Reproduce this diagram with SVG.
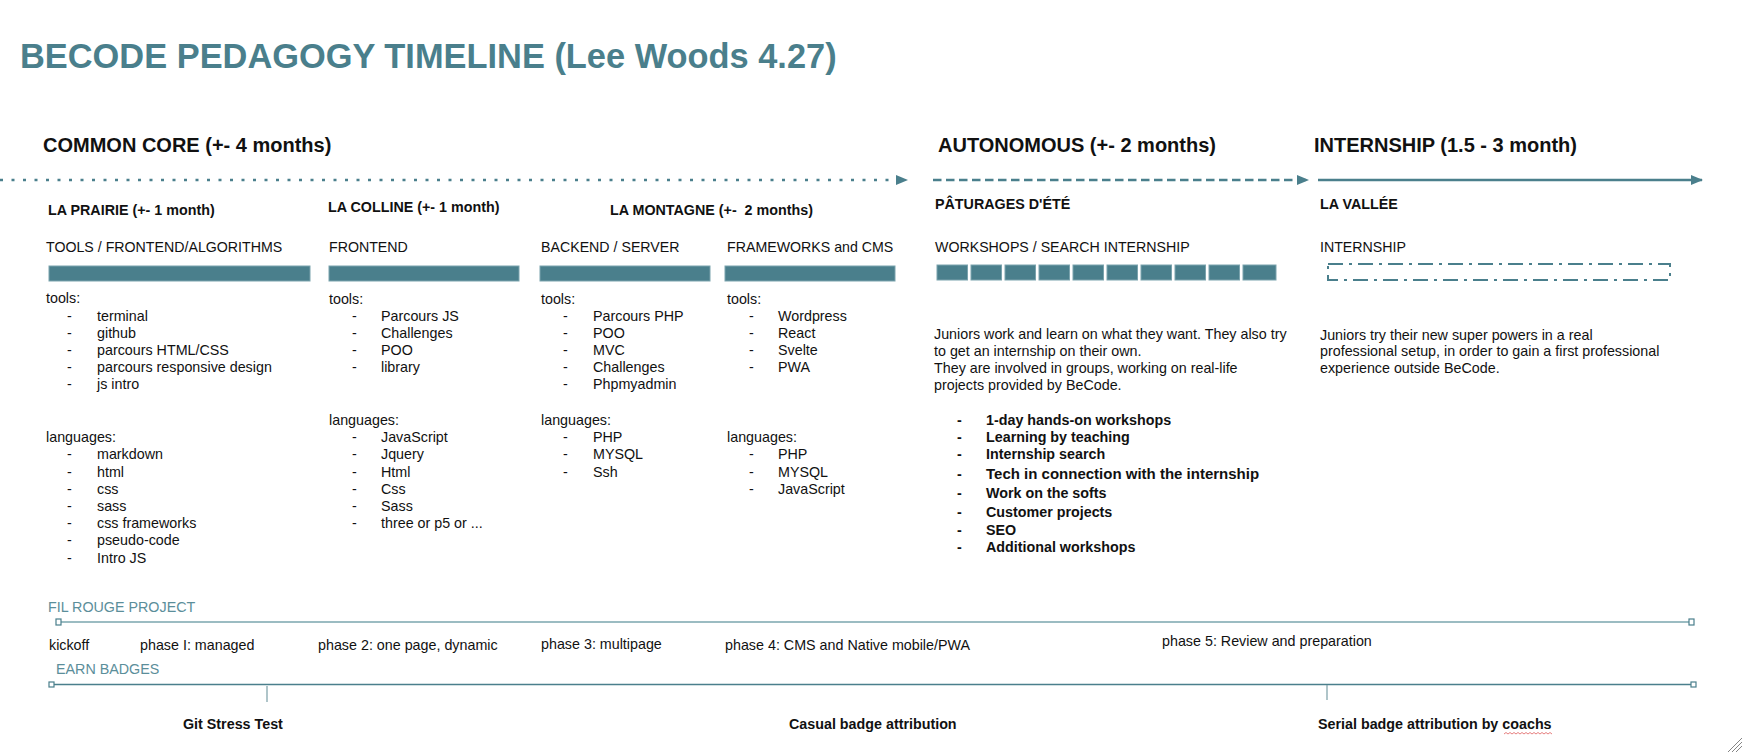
<svg xmlns="http://www.w3.org/2000/svg" width="1743" height="753" viewBox="0 0 1743 753">
<defs>
<style>
text{font-family:"Liberation Sans",Arial,sans-serif;fill:#111}
.title{font-size:34.4px;font-weight:bold;fill:#4a7f8c}
.h1{font-size:20px;font-weight:bold}
.h2{font-size:14.3px;font-weight:bold}
.h3{font-size:14.2px}
.li{font-size:14.3px}
.p{font-size:14.3px}
.b{font-size:14.3px;font-weight:bold}
.lab{font-size:14.3px;fill:#5b8e9a}
.bar{fill:#4a7f8c;stroke:#7ba3ad;stroke-width:1}
.tl{stroke:#4a7f8c;stroke-width:2.5;fill:none}
.sq{fill:#fff;stroke:#4a7f8c;stroke-width:1.2}
</style>
<marker id="ah" markerWidth="12" markerHeight="10" refX="11" refY="5" orient="auto" markerUnits="userSpaceOnUse">
<path d="M0,0 L12,5 L0,10 z" fill="#4a7f8c"/>
</marker>
</defs>
<rect width="1743" height="753" fill="#fff"/>

<text class="title" x="20" y="68">BECODE PEDAGOGY TIMELINE (Lee Woods 4.27)</text>

<g id="connectors">
<line class="tl" x1="0" y1="180" x2="907" y2="180" stroke-dasharray="3 8.5" marker-end="url(#ah)"/>
<line class="tl" x1="933" y1="180" x2="1308" y2="180" stroke-dasharray="8.5 4.5" marker-end="url(#ah)"/>
<line class="tl" x1="1318" y1="180" x2="1702" y2="180" marker-end="url(#ah)"/>
</g>

<g id="common-core">
<text class="h1" x="43" y="152">COMMON CORE (+- 4 months)</text>
</g>
<g id="autonomous">
<text class="h1" x="938" y="152">AUTONOMOUS (+- 2 months)</text>
</g>
<g id="internship">
<text class="h1" x="1314" y="152">INTERNSHIP (1.5 - 3 month)</text>
</g>

<g id="la-prairie">
<text class="h2" x="48" y="215">LA PRAIRIE (+- 1 month)</text>
<text class="h3" x="46" y="252">TOOLS / FRONTEND/ALGORITHMS</text>
<rect class="bar" x="49" y="266" width="261" height="15"/>
<text class="li" x="46" y="303">tools:</text>
<text class="li" x="67" y="321">-</text><text class="li" x="97" y="321">terminal</text>
<text class="li" x="67" y="338">-</text><text class="li" x="97" y="338">github</text>
<text class="li" x="67" y="355">-</text><text class="li" x="97" y="355">parcours HTML/CSS</text>
<text class="li" x="67" y="372">-</text><text class="li" x="97" y="372">parcours responsive design</text>
<text class="li" x="67" y="389">-</text><text class="li" x="97" y="389">js intro</text>
<text class="li" x="46" y="442">languages:</text>
<text class="li" x="67" y="459">-</text><text class="li" x="97" y="459">markdown</text>
<text class="li" x="67" y="476.5">-</text><text class="li" x="97" y="476.5">html</text>
<text class="li" x="67" y="494">-</text><text class="li" x="97" y="494">css</text>
<text class="li" x="67" y="511">-</text><text class="li" x="97" y="511">sass</text>
<text class="li" x="67" y="528">-</text><text class="li" x="97" y="528">css frameworks</text>
<text class="li" x="67" y="545">-</text><text class="li" x="97" y="545">pseudo-code</text>
<text class="li" x="67" y="562.5">-</text><text class="li" x="97" y="562.5">Intro JS</text>
</g>

<g id="la-colline">
<text class="h2" x="328" y="212">LA COLLINE (+- 1 month)</text>
<text class="h3" x="329" y="252">FRONTEND</text>
<rect class="bar" x="329" y="266" width="190" height="15"/>
<text class="li" x="329" y="304">tools:</text>
<text class="li" x="352" y="321">-</text><text class="li" x="381" y="321">Parcours JS</text>
<text class="li" x="352" y="338">-</text><text class="li" x="381" y="338">Challenges</text>
<text class="li" x="352" y="355">-</text><text class="li" x="381" y="355">POO</text>
<text class="li" x="352" y="372">-</text><text class="li" x="381" y="372">library</text>
<text class="li" x="329" y="425">languages:</text>
<text class="li" x="352" y="442">-</text><text class="li" x="381" y="442">JavaScript</text>
<text class="li" x="352" y="459">-</text><text class="li" x="381" y="459">Jquery</text>
<text class="li" x="352" y="476.5">-</text><text class="li" x="381" y="476.5">Html</text>
<text class="li" x="352" y="494">-</text><text class="li" x="381" y="494">Css</text>
<text class="li" x="352" y="511">-</text><text class="li" x="381" y="511">Sass</text>
<text class="li" x="352" y="528">-</text><text class="li" x="381" y="528">three or p5 or ...</text>
</g>

<g id="la-montagne">
<text class="h2" x="610" y="215" style="white-space:pre">LA MONTAGNE (+-  2 months)</text>
<text class="h3" x="541" y="252">BACKEND / SERVER</text>
<rect class="bar" x="540" y="266" width="170" height="15"/>
<text class="li" x="541" y="304">tools:</text>
<text class="li" x="563" y="321">-</text><text class="li" x="593" y="321">Parcours PHP</text>
<text class="li" x="563" y="338">-</text><text class="li" x="593" y="338">POO</text>
<text class="li" x="563" y="355">-</text><text class="li" x="593" y="355">MVC</text>
<text class="li" x="563" y="372">-</text><text class="li" x="593" y="372">Challenges</text>
<text class="li" x="563" y="389">-</text><text class="li" x="593" y="389">Phpmyadmin</text>
<text class="li" x="541" y="425">languages:</text>
<text class="li" x="563" y="442">-</text><text class="li" x="593" y="442">PHP</text>
<text class="li" x="563" y="459">-</text><text class="li" x="593" y="459">MYSQL</text>
<text class="li" x="563" y="476.5">-</text><text class="li" x="593" y="476.5">Ssh</text>
</g>

<g id="frameworks">
<text class="h3" x="727" y="252">FRAMEWORKS and CMS</text>
<rect class="bar" x="725" y="266" width="170" height="15"/>
<text class="li" x="727" y="304">tools:</text>
<text class="li" x="749" y="321">-</text><text class="li" x="778" y="321">Wordpress</text>
<text class="li" x="749" y="338">-</text><text class="li" x="778" y="338">React</text>
<text class="li" x="749" y="355">-</text><text class="li" x="778" y="355">Svelte</text>
<text class="li" x="749" y="372">-</text><text class="li" x="778" y="372">PWA</text>
<text class="li" x="727" y="442">languages:</text>
<text class="li" x="749" y="459">-</text><text class="li" x="778" y="459">PHP</text>
<text class="li" x="749" y="476.5">-</text><text class="li" x="778" y="476.5">MYSQL</text>
<text class="li" x="749" y="494">-</text><text class="li" x="778" y="494">JavaScript</text>
</g>

<g id="paturages">
<text class="h2" x="935" y="209">PÂTURAGES D'ÉTÉ</text>
<text class="h3" x="935" y="252">WORKSHOPS / SEARCH INTERNSHIP</text>
<g class="bar">
<rect x="937" y="265" width="30.5" height="15"/>
<rect x="971" y="265" width="30.5" height="15"/>
<rect x="1005" y="265" width="30.5" height="15"/>
<rect x="1039" y="265" width="30.5" height="15"/>
<rect x="1073" y="265" width="30.5" height="15"/>
<rect x="1107" y="265" width="30.5" height="15"/>
<rect x="1141" y="265" width="30.5" height="15"/>
<rect x="1175" y="265" width="30.5" height="15"/>
<rect x="1209" y="265" width="30.5" height="15"/>
<rect x="1243" y="265" width="33" height="15"/>
</g>
<text class="p" x="934" y="339">Juniors work and learn on what they want. They also try</text>
<text class="p" x="934" y="356">to get an internship on their own.</text>
<text class="p" x="934" y="373">They are involved in groups, working on real-life</text>
<text class="p" x="934" y="390">projects provided by BeCode.</text>
<text class="b" x="957" y="425">-</text><text class="b" x="986" y="425">1-day hands-on workshops</text>
<text class="b" x="957" y="442">-</text><text class="b" x="986" y="442">Learning by teaching</text>
<text class="b" x="957" y="459">-</text><text class="b" x="986" y="459">Internship search</text>
<text class="b" x="957" y="479">-</text><text class="b" x="986" y="479" style="font-size:15px">Tech in connection with the internship</text>
<text class="b" x="957" y="498">-</text><text class="b" x="986" y="498">Work on the softs</text>
<text class="b" x="957" y="517">-</text><text class="b" x="986" y="517">Customer projects</text>
<text class="b" x="957" y="535">-</text><text class="b" x="986" y="535">SEO</text>
<text class="b" x="957" y="552">-</text><text class="b" x="986" y="552">Additional workshops</text>
</g>

<g id="la-vallee">
<text class="h2" x="1320" y="209">LA VALLÉE</text>
<text class="h3" x="1320" y="252">INTERNSHIP</text>
<rect x="1328" y="264" width="342" height="16" fill="none" stroke="#4a7f8c" stroke-width="2" stroke-dasharray="15 6 3 6"/>
<text class="p" x="1320" y="340">Juniors try their new super powers in a real</text>
<text class="p" x="1320" y="356">professional setup, in order to gain a first professional</text>
<text class="p" x="1320" y="373">experience outside BeCode.</text>
</g>

<g id="fil-rouge">
<text class="lab" x="48" y="612">FIL ROUGE PROJECT</text>
<line x1="61" y1="622" x2="1689" y2="622" stroke="#9bbcc2" stroke-width="2"/>
<rect class="sq" x="56" y="619" width="5" height="6"/>
<rect class="sq" x="1689" y="619" width="5" height="6"/>
<text class="p" x="49" y="650">kickoff</text>
<text class="p" x="140" y="650">phase I: managed</text>
<text class="p" x="318" y="650">phase 2: one page, dynamic</text>
<text class="p" x="541" y="649">phase 3: multipage</text>
<text class="p" x="725" y="650">phase 4: CMS and Native mobile/PWA</text>
<text class="p" x="1162" y="646">phase 5: Review and preparation</text>
</g>

<g id="earn-badges">
<text class="lab" x="56" y="674">EARN BADGES</text>
<line x1="54" y1="684.5" x2="1691" y2="684.5" stroke="#4a7f8c" stroke-width="1.5"/>
<rect class="sq" x="49" y="682" width="5" height="5"/>
<rect class="sq" x="1691" y="682" width="5" height="5"/>
<line x1="267" y1="686" x2="267" y2="702" stroke="#7a9ea6" stroke-width="1.2"/>
<line x1="1327" y1="685" x2="1327" y2="700" stroke="#7a9ea6" stroke-width="1.2"/>
<text class="b" x="183" y="729">Git Stress Test</text>
<text class="b" x="789" y="729">Casual badge attribution</text>
<text class="b" x="1318" y="729">Serial badge attribution by coachs</text>
<path d="M1504,734 l2,-1.5 l2,1.5 l2,-1.5 l2,1.5 l2,-1.5 l2,1.5 l2,-1.5 l2,1.5 l2,-1.5 l2,1.5 l2,-1.5 l2,1.5 l2,-1.5 l2,1.5 l2,-1.5 l2,1.5 l2,-1.5 l2,1.5 l2,-1.5 l2,1.5 l2,-1.5 l2,1.5 l2,-1.5 l2,1.5" fill="none" stroke="#e06060" stroke-width="0.8"/>
</g>

<g id="resize-handle" stroke="#666" stroke-width="0.8">
<line x1="1728" y1="752" x2="1742" y2="738"/>
<line x1="1732" y1="752" x2="1742" y2="742"/>
<line x1="1736" y1="752" x2="1742" y2="746"/>
</g>
</svg>
